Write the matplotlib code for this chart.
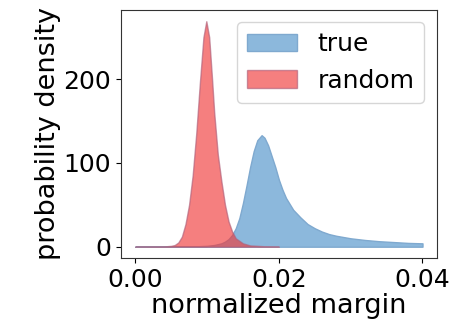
import matplotlib
matplotlib.use("Agg")
import matplotlib.pyplot as plt
import numpy as np

# normalized margin grid and densities
random_x = [0.000, 0.004, 0.005, 0.0055, 0.006, 0.0065, 0.007, 0.0075, 0.008, 0.0085,
            0.009, 0.0095, 0.0099, 0.0103, 0.0107, 0.011, 0.0115, 0.012, 0.0125, 0.013,
            0.0135, 0.014, 0.015, 0.016, 0.018, 0.020]
random_y = [0, 0.3, 1, 2, 5, 12, 27, 50, 85, 135,
            195, 250, 269, 250, 200, 160, 110, 78, 50, 30,
            18, 10, 4, 1.5, 0.5, 0.1]

true_x = [0.000, 0.008, 0.010, 0.011, 0.012, 0.0125, 0.013, 0.0135, 0.014, 0.0145,
          0.015, 0.0155, 0.016, 0.0165, 0.017, 0.0176, 0.018, 0.0185, 0.019, 0.0195,
          0.020, 0.0205, 0.021, 0.022, 0.023, 0.024, 0.025, 0.026, 0.027, 0.028,
          0.030, 0.032, 0.034, 0.036, 0.038, 0.040]
true_y = [0, 0.3, 1, 2, 4, 6, 9, 14, 22, 34,
          52, 73, 95, 114, 127, 133, 130, 121, 108, 95,
          80, 68, 58, 44, 35, 27, 22, 18, 15, 13,
          10, 8, 6.5, 5.5, 4.5, 4]

labels = ["true", "random"]

plt.rcParams["font.family"] = "DejaVu Sans"
plt.rcParams["font.size"] = 17

fig = plt.figure(figsize=(4.56, 3.32), dpi=100)
ax = fig.add_axes([0.265, 0.223, 0.693, 0.747])

ax.fill_between(true_x, true_y, color="#8cb8dc", alpha=1.0, edgecolor="#7fa9cf",
                linewidth=1, label=labels[0])
ax.fill_between(random_x, random_y, color="#f03a3a", alpha=0.65, edgecolor="#b0607a",
                linewidth=1, label=labels[1])

ax.set_xticks([0.00, 0.02, 0.04])
ax.set_xticklabels(["0.00", "0.02", "0.04"])
ax.set_yticks([0, 100, 200])
ax.tick_params(labelsize=18)
ax.set_xlabel("normalized margin", fontsize=19.5, labelpad=1)
ax.set_ylabel("probability density", fontsize=19.5, labelpad=2)
ax.legend(loc="upper right", fontsize=18, handlelength=2.0, borderpad=0.4)

for s in ax.spines.values():
    s.set_color("#333333")

fig.savefig("out.png", dpi=100)
